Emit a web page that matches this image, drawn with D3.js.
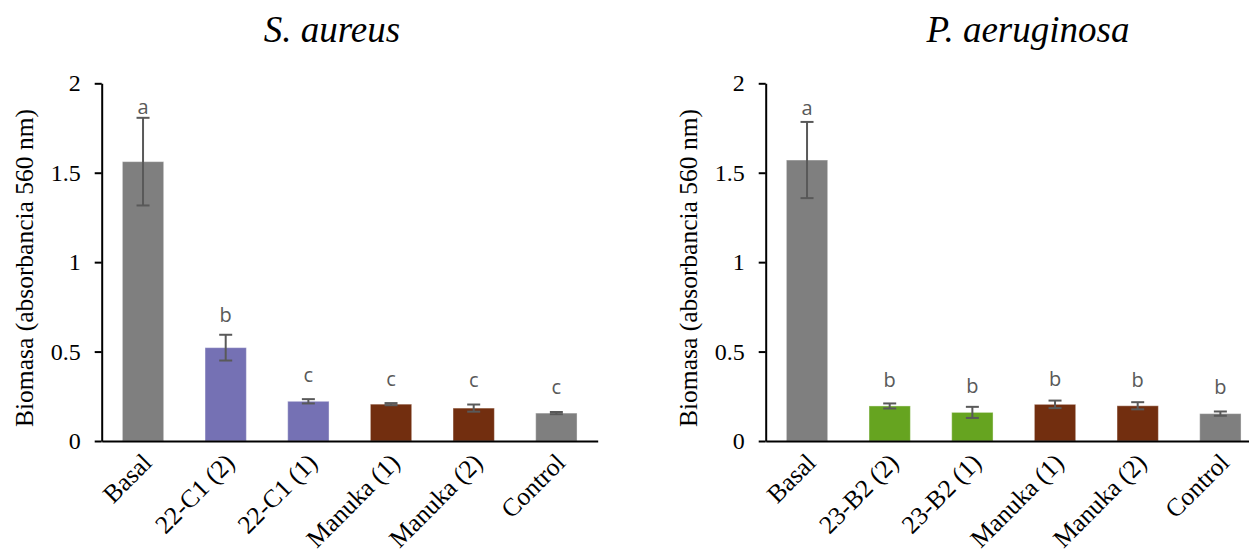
<!DOCTYPE html>
<html>
<head>
<meta charset="utf-8">
<script src="https://cdn.jsdelivr.net/npm/d3@7"></script>
<style>
  body { margin: 0; background: #fff; }
  svg { display: block; }
</style>
</head>
<body>
<svg id="chart" width="1249" height="558"></svg>
<script>
// Data
const categoriesSA = ["Basal", "22-C1 (2)", "22-C1 (1)", "Manuka (1)", "Manuka (2)", "Control"];
const valuesSA = [1.562, 0.522, 0.222, 0.206, 0.184, 0.156];
const errorsSA = [0.245, 0.072, 0.012, 0.006, 0.020, 0.006];
const lettersSA = ["a", "b", "c", "c", "c", "c"];
const letterAtSA = [1.856, 0.693, 0.358, 0.334, 0.330, 0.288];
const groupsSA = ["basal", "isolateSA", "isolateSA", "manuka", "manuka", "control"];

const categoriesPA = ["Basal", "23-B2 (2)", "23-B2 (1)", "Manuka (1)", "Manuka (2)", "Control"];
const valuesPA = [1.571, 0.196, 0.160, 0.205, 0.197, 0.153];
const errorsPA = [0.213, 0.014, 0.031, 0.021, 0.020, 0.012];
const lettersPA = ["a", "b", "b", "b", "b", "b"];
const letterAtPA = [1.850, 0.332, 0.295, 0.337, 0.332, 0.289];
const groupsPA = ["basal", "isolatePA", "isolatePA", "manuka", "manuka", "control"];

const yTicks = [0, 0.5, 1, 1.5, 2];

const colors = {
  basal: "#7f7f7f",
  isolateSA: "#7571b4",
  isolatePA: "#66a420",
  manuka: "#722e0f",
  control: "#7f7f7f"
};

const svg = d3.select("#chart");
const plotTop = 83.3, plotBottom = 441, plotW = 496;

const y = d3.scaleLinear().domain([0, 2]).range([plotBottom, plotTop]);

function drawPanel(x0, titleX, title, cats, vals, errs, letters, letterAt, groups) {
  const g = svg.append("g");
  const rows = cats.map((c, i) => ({
    cat: c, value: vals[i], err: errs[i], letter: letters[i], at: letterAt[i], group: groups[i]
  }));

  const x = d3.scaleBand()
    .domain(cats)
    .range([x0, x0 + plotW])
    .paddingInner(0.5)
    .paddingOuter(0.25);

  // bars
  g.selectAll(".bar")
    .data(rows)
    .enter().append("rect")
    .attr("x", d => x(d.cat))
    .attr("y", d => y(d.value))
    .attr("width", x.bandwidth())
    .attr("height", d => y(0) - y(d.value))
    .attr("fill", d => colors[d.group])
    .attr("stroke", "#ffffff")
    .attr("stroke-opacity", 0.4)
    .attr("stroke-width", 1);

  // error bars
  const capW = 13;
  const eb = g.selectAll(".err").data(rows).enter().append("g")
    .attr("stroke", "#595959")
    .attr("stroke-width", 2);
  eb.append("line")
    .attr("x1", d => x(d.cat) + x.bandwidth() / 2)
    .attr("x2", d => x(d.cat) + x.bandwidth() / 2)
    .attr("y1", d => y(d.value - d.err))
    .attr("y2", d => y(d.value + d.err));
  eb.append("line")
    .attr("x1", d => x(d.cat) + x.bandwidth() / 2 - capW / 2)
    .attr("x2", d => x(d.cat) + x.bandwidth() / 2 + capW / 2)
    .attr("y1", d => y(d.value + d.err))
    .attr("y2", d => y(d.value + d.err));
  eb.append("line")
    .attr("x1", d => x(d.cat) + x.bandwidth() / 2 - capW / 2)
    .attr("x2", d => x(d.cat) + x.bandwidth() / 2 + capW / 2)
    .attr("y1", d => y(d.value - d.err))
    .attr("y2", d => y(d.value - d.err));

  // significance letters
  g.selectAll(".letter")
    .data(rows)
    .enter().append("text")
    .attr("x", d => x(d.cat) + x.bandwidth() / 2)
    .attr("y", d => y(d.at))
    .attr("dy", "0.25em")
    .attr("text-anchor", "middle")
    .attr("fill", "#595959")
    .style("font-family", "'Open Sans', sans-serif")
    .style("font-size", "20px")
    .text(d => d.letter);

  // y axis
  const yAxis = g.append("g")
    .attr("transform", `translate(${x0},0)`)
    .call(d3.axisLeft(y).tickValues(yTicks).tickSize(7).tickSizeOuter(0).tickPadding(14)
      .tickFormat(d3.format("")));
  yAxis.select(".domain").attr("stroke", "#000").attr("stroke-width", 2);
  yAxis.selectAll(".tick line").attr("stroke", "#000").attr("stroke-width", 2);
  yAxis.selectAll("text")
    .style("font-family", "'Liberation Serif', serif")
    .style("font-size", "24px")
    .attr("fill", "#000");

  // x axis
  const xAxis = g.append("g")
    .attr("transform", `translate(0,${plotBottom})`)
    .call(d3.axisBottom(x).tickSize(0).tickSizeOuter(0).tickPadding(0));
  xAxis.select(".domain").attr("stroke", "#000").attr("stroke-width", 2);
  xAxis.selectAll("text")
    .style("font-family", "'Liberation Serif', serif")
    .style("font-size", "25.5px")
    .attr("fill", "#000")
    .attr("text-anchor", "end")
    .attr("dy", "0.35em")
    .attr("transform", "translate(4,17) rotate(-45)");

  // y label
  g.append("text")
    .attr("transform", `translate(${x0 - 78},268) rotate(-90)`)
    .attr("text-anchor", "middle")
    .attr("dy", "0.35em")
    .style("font-family", "'Liberation Serif', serif")
    .style("font-size", "25.5px")
    .text("Biomasa (absorbancia 560 nm)");

  // title
  g.append("text")
    .attr("x", titleX)
    .attr("y", 42)
    .attr("text-anchor", "middle")
    .style("font-family", "'Liberation Serif', serif")
    .style("font-style", "italic")
    .style("font-size", "37px")
    .text(title);
}

drawPanel(101.7, 332, "S. aureus", categoriesSA, valuesSA, errorsSA, lettersSA, letterAtSA, groupsSA);
drawPanel(765.7, 1028, "P. aeruginosa", categoriesPA, valuesPA, errorsPA, lettersPA, letterAtPA, groupsPA);
</script>
</body>
</html>
